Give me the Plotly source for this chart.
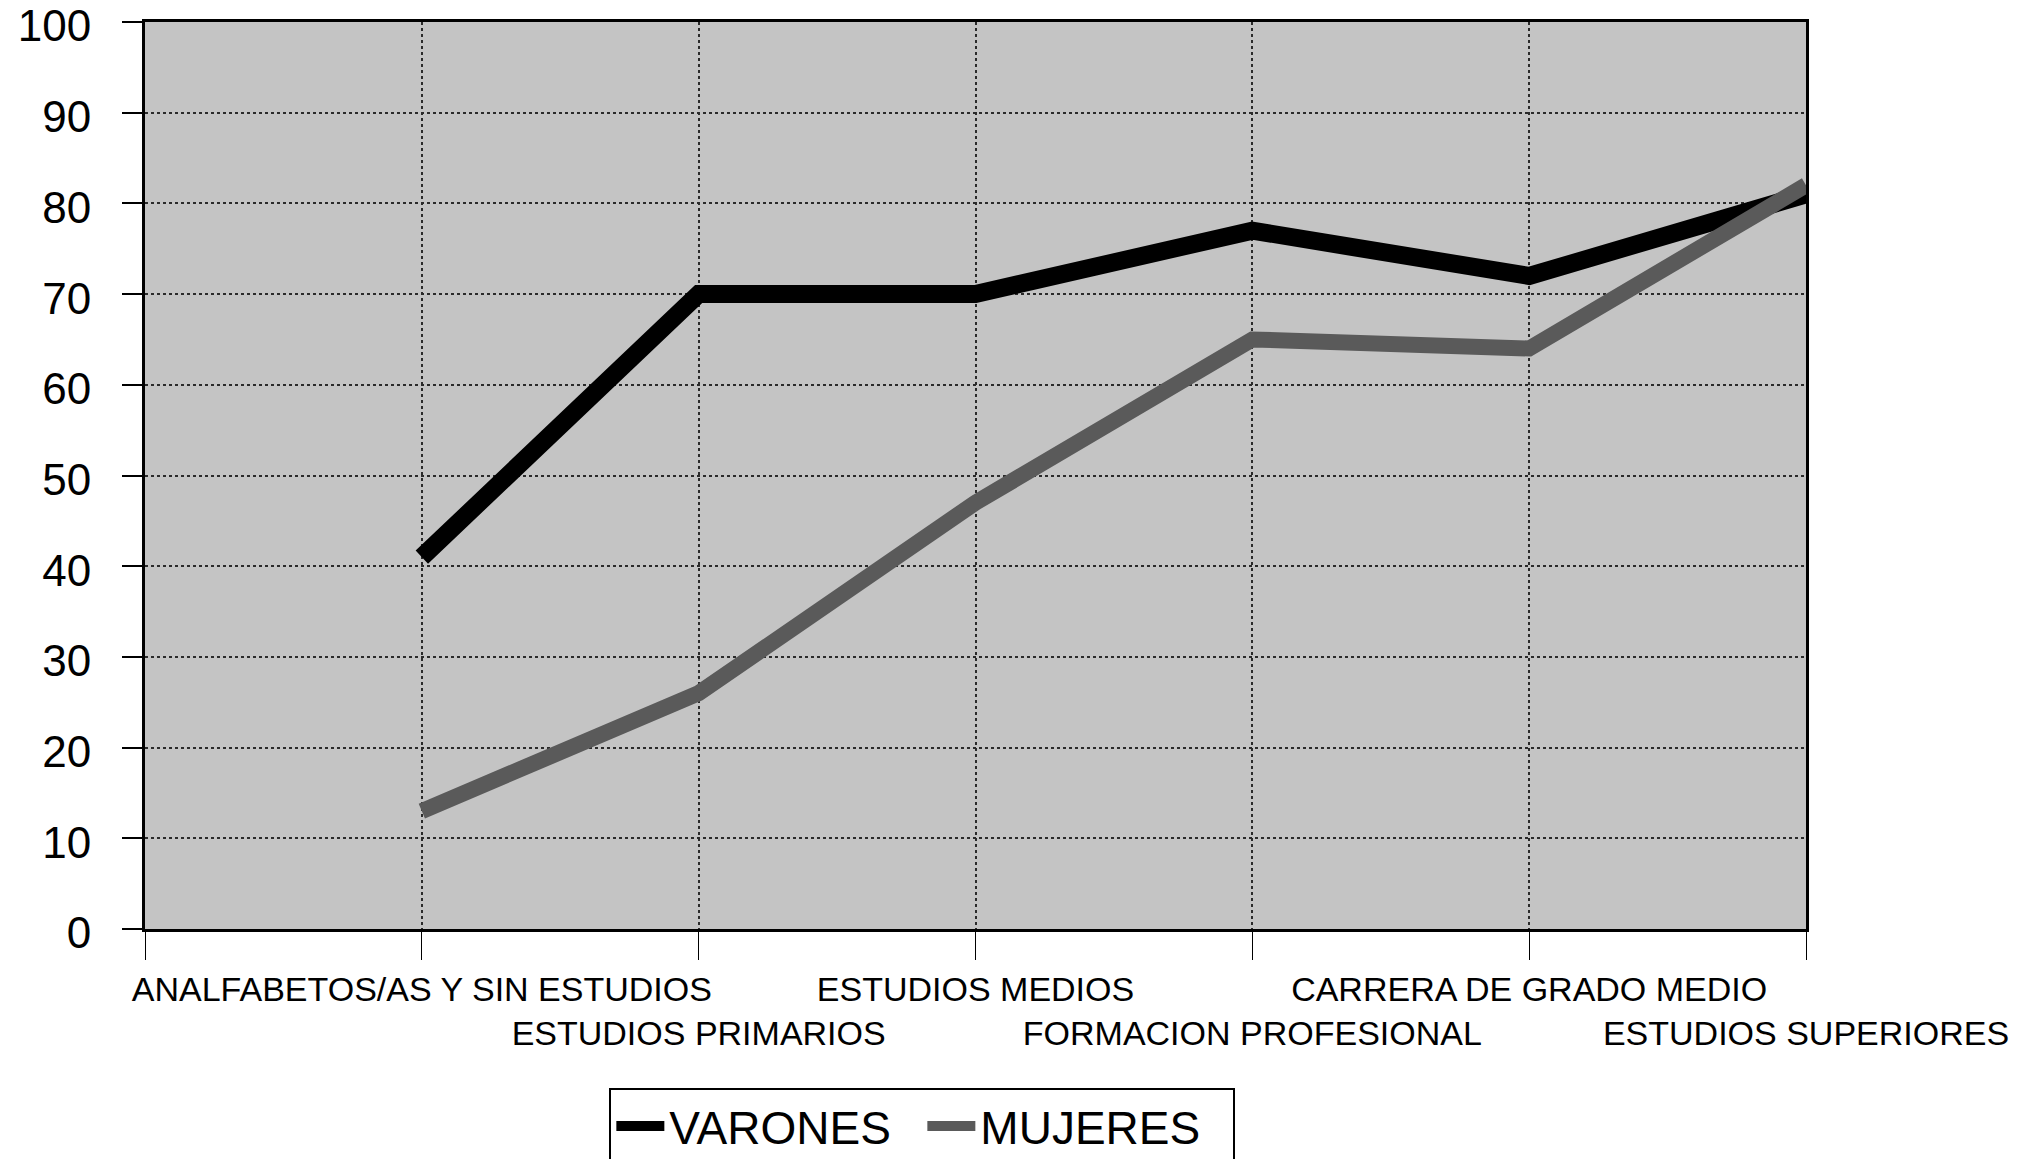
import plotly.graph_objects as go

# ---- data ----
categorias = [
    "ANALFABETOS/AS Y SIN ESTUDIOS",
    "ESTUDIOS PRIMARIOS",
    "ESTUDIOS MEDIOS",
    "FORMACION PROFESIONAL",
    "CARRERA DE GRADO MEDIO",
    "ESTUDIOS SUPERIORES",
]
varones = [41, 70, 70, 77, 72, 81]
mujeres = [13, 26, 47, 65, 64, 82]
y_ticks = list(range(0, 101, 10))

FONT = "Liberation Sans, Arial, Helvetica, sans-serif"

# categories sit on ticks 1..6, tick 0 is the left edge
pos = list(range(1, len(categorias) + 1))
tick_vals = [0] + pos
# alternate labels between two rows
tick_text = [""] + [c if i % 2 == 0 else "<br>" + c for i, c in enumerate(categorias)]

fig = go.Figure()
fig.add_trace(go.Scatter(
    x=pos, y=varones, mode="lines", name="VARONES",
    line=dict(color="#000000", width=18),
))
fig.add_trace(go.Scatter(
    x=pos, y=mujeres, mode="lines", name="MUJERES",
    line=dict(color="#5a5a5a", width=16),
))

# page body adds an 8px offset, margins compensate
fig.update_layout(
    width=2028, height=1159,
    margin=dict(l=137, r=230, t=14, b=238, autoexpand=False),
    paper_bgcolor="white",
    plot_bgcolor="#c4c4c4",
    font=dict(family=FONT, color="black"),
    showlegend=True,
    legend=dict(
        orientation="h",
        x=0.468, xanchor="center",
        y=-0.175, yanchor="top",
        bordercolor="black", borderwidth=2,
        font=dict(size=46, family=FONT),
        itemwidth=48,
        entrywidth=248,
        traceorder="normal",
    ),
)

fig.update_xaxes(
    range=[0, len(categorias)],
    tickmode="array", tickvals=tick_vals, ticktext=tick_text,
    tickangle=0, automargin=False, ticklabeloverflow="allow",
    ticks="outside", ticklen=28, tickcolor="black", tickwidth=1,
    tickfont=dict(size=34, family=FONT),
    showgrid=True, gridcolor="#2a2a2a", griddash="dot", gridwidth=1.5,
    showline=True, linecolor="black", linewidth=3, mirror=True,
    zeroline=False,
)
fig.update_yaxes(
    range=[0, 100],
    tickmode="array", tickvals=y_ticks,
    automargin=False, ticklabeloverflow="allow",
    ticks="outside", ticklen=20, tickcolor="black", tickwidth=2,
    tickfont=dict(size=44, family=FONT),
    ticklabelstandoff=22, ticklabelshift=4,
    showgrid=True, gridcolor="#2a2a2a", griddash="dot", gridwidth=1.5,
    showline=True, linecolor="black", linewidth=3, mirror=True,
    zeroline=False,
)

fig.write_html("out.html")
